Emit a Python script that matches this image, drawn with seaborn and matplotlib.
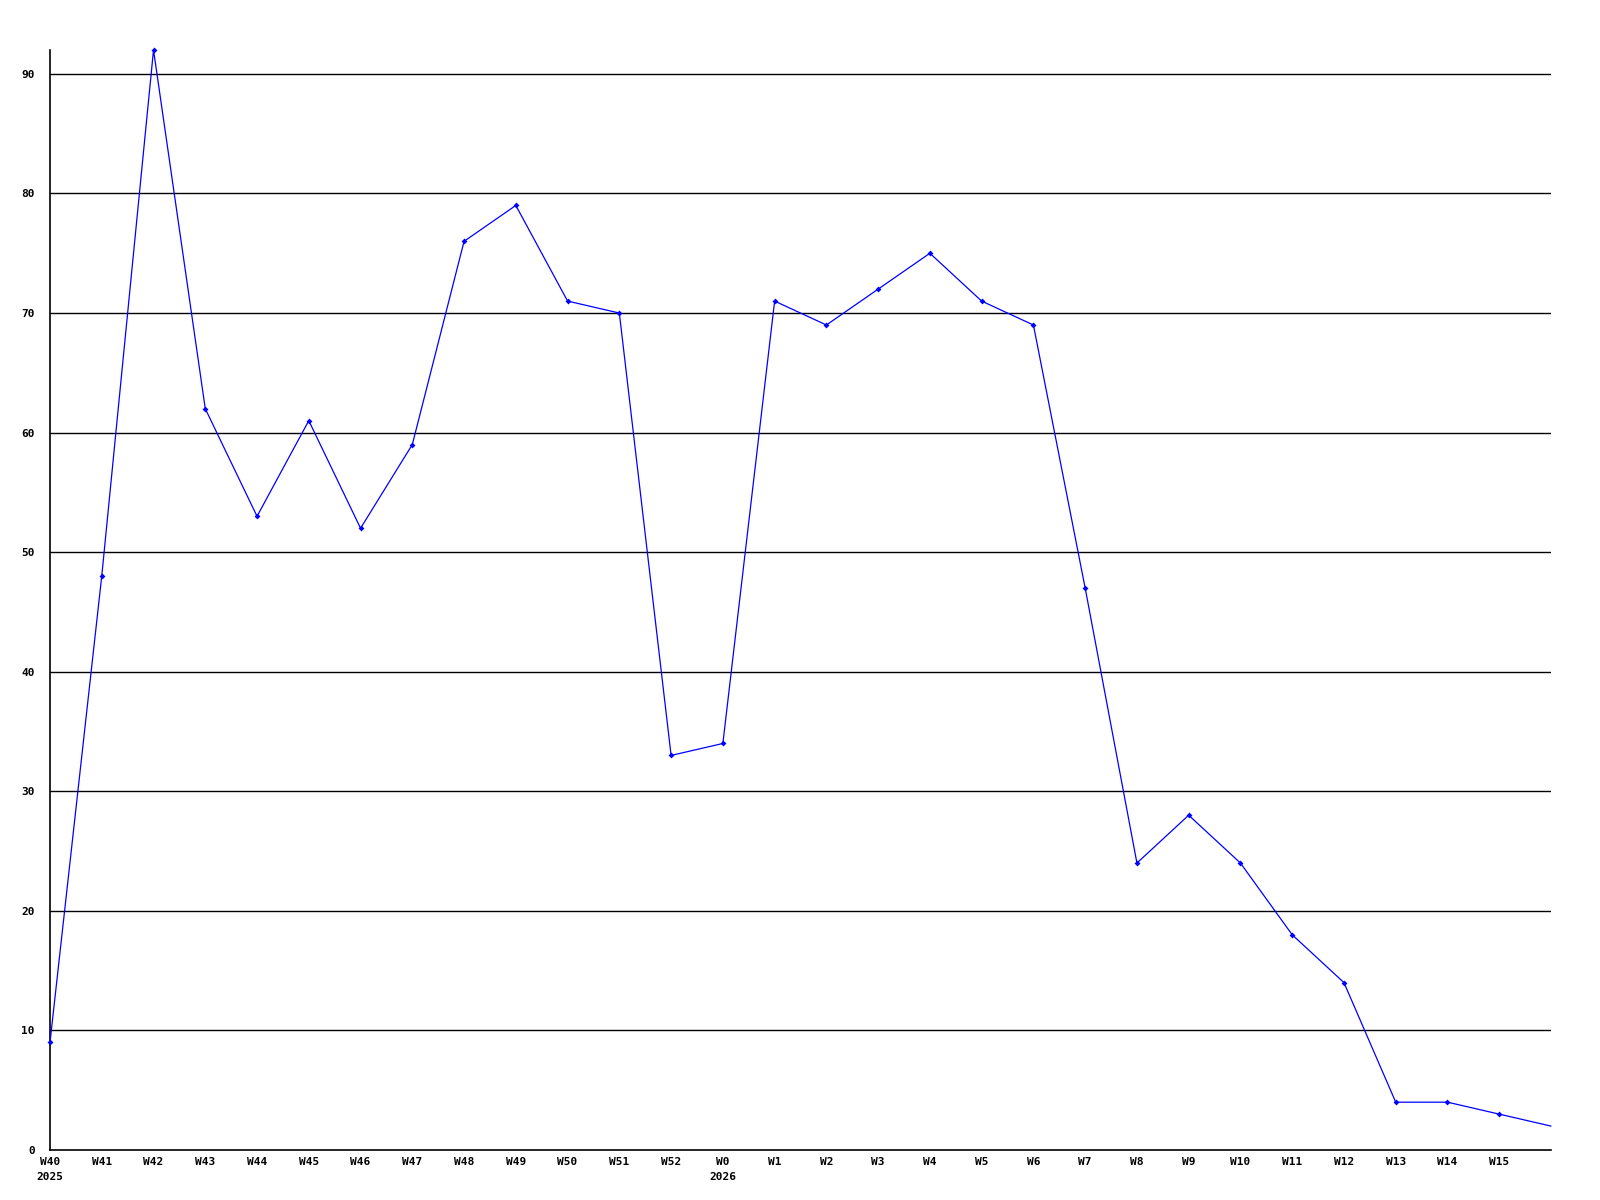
import matplotlib
matplotlib.use('Agg')
import matplotlib.pyplot as plt
import seaborn as sns
import pandas as pd

weeks = ['W40', 'W41', 'W42', 'W43', 'W44', 'W45', 'W46', 'W47', 'W48', 'W49',
         'W50', 'W51', 'W52', 'W0', 'W1', 'W2', 'W3', 'W4', 'W5', 'W6',
         'W7', 'W8', 'W9', 'W10', 'W11', 'W12', 'W13', 'W14', 'W15', 'W16']
values = [9, 48, 92, 62, 53, 61, 52, 59, 76, 79,
          71, 70, 33, 34, 71, 69, 72, 75, 71, 69,
          47, 24, 28, 24, 18, 14, 4, 4, 3, 2]
year_labels = {'W40': '2025', 'W0': '2026'}
y_ticks = [0, 10, 20, 30, 40, 50, 60, 70, 80, 90]

sns.set_style('white')
plt.rcParams['font.family'] = ['DejaVu Sans Mono']
plt.rcParams['font.weight'] = 'bold'
plt.rcParams['text.color'] = 'black'
plt.rcParams['xtick.color'] = 'black'
plt.rcParams['ytick.color'] = 'black'

df = pd.DataFrame({'pos': range(len(weeks)), 'week': weeks, 'value': values})

fig = plt.figure(figsize=(16, 12), dpi=100)
ax = fig.add_axes([50 / 1600, 50 / 1200, 1501 / 1600, 1100 / 1200])

for t in y_ticks[1:]:
    ax.axhline(t, color='black', lw=1.0, zorder=1)

sns.lineplot(data=df, x='pos', y='value', ax=ax, color='#0000ff', lw=0.9,
             marker='D', markersize=3, markeredgewidth=0, zorder=3,
             markevery=list(range(len(weeks) - 1)), clip_on=False)

ax.set_xlim(0, len(weeks) - 1)
ax.set_ylim(0, 92)
ax.set_yticks(y_ticks)
ax.set_yticklabels([str(t) for t in y_ticks], fontsize=8, fontweight='bold')
ax.set_xticks(range(len(weeks) - 1))
labels = [w + ('\n' + year_labels[w] if w in year_labels else '') for w in weeks[:-1]]
ax.set_xticklabels(labels, fontsize=8, fontweight='bold', linespacing=1.6)
for lab in ax.get_xticklabels():
    lab.set_verticalalignment('top')
ax.tick_params(axis='both', length=0, labelcolor='black')
ax.tick_params(axis='y', pad=11)
ax.tick_params(axis='x', pad=5)
ax.set_xlabel('')
ax.set_ylabel('')
for s in ['top', 'right']:
    ax.spines[s].set_visible(False)
for s in ['left', 'bottom']:
    ax.spines[s].set_color('black')
    ax.spines[s].set_linewidth(1.2)

fig.savefig('out.png', dpi=100, facecolor='white')
